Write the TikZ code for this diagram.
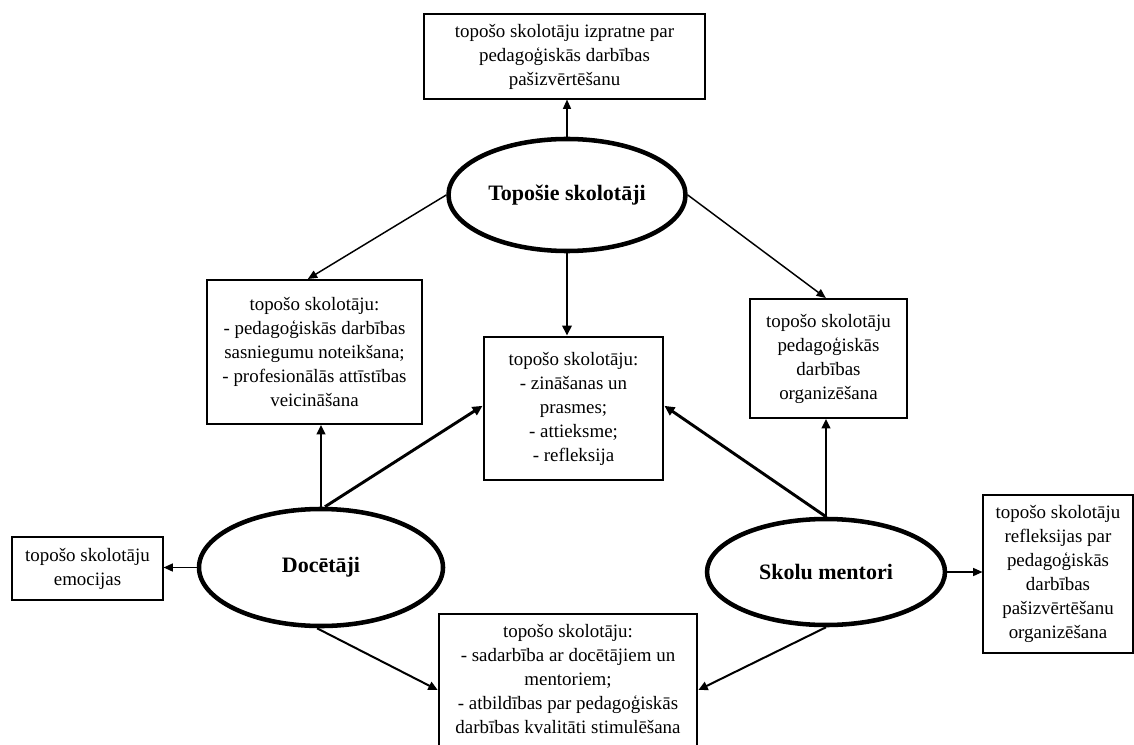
\documentclass[tikz,border=0pt]{standalone}
\usepackage{fontspec}
\setmainfont{Liberation Serif}
\usetikzlibrary{arrows.meta,shapes.geometric}

\tikzset{
  txt/.style={font=\fontsize{14.2}{18}\selectfont, align=center, inner sep=0pt},
  boxthin/.style={txt, draw, rectangle, line width=0.8pt},
  boxmid/.style={txt, draw, rectangle, line width=1.5pt},
  boxthick/.style={txt, draw, rectangle, line width=2.2pt},
  actor/.style={draw, ellipse, line width=3.4pt, inner sep=0pt,
    font=\fontsize{16.5}{19}\selectfont\bfseries},
  arrthin/.style={-{Triangle[length=7pt,width=6pt]}, line width=1.1pt},
  arrmid/.style={-{Triangle[length=7pt,width=6.5pt]}, line width=1.5pt},
  arrthick/.style={-{Triangle[length=7.5pt,width=7pt]}, line width=2.2pt},
}

\begin{document}
\begin{tikzpicture}[x=0.75pt,y=-0.75pt]
  \clip (0,0) rectangle (1134,745);
  \fill[white] (0,0) rectangle (1134,745);

  % actors
  \node[actor, minimum width=177.75pt, minimum height=84pt] (tp) at (567,195) {Topošie skolotāji};
  \node[actor, minimum width=183pt, minimum height=87.75pt] (dc) at (321,567.5) {Docētāji};
  \node[actor, minimum width=178.5pt, minimum height=79.5pt] (mt) at (826,572) {Skolu mentori};

  % outcome boxes
  \node[boxthin, minimum width=210.75pt, minimum height=63.75pt] (tb) at (564.5,56.5)
    {topošo skolotāju izpratne par\\pedagoģiskās darbības\\pašizvērtēšanu};
  \node[boxmid, minimum width=161.25pt, minimum height=108pt] (lb) at (314.5,352)
    {topošo skolotāju:\\- pedagoģiskās darbības\\sasniegumu noteikšana;\\- profesionālās attīstības\\veicināšana};
  \node[boxthick, minimum width=134.25pt, minimum height=107.25pt] (cb) at (573.5,408.5)
    {topošo skolotāju:\\- zināšanas un\\prasmes;\\- attieksme;\\- refleksija};
  \node[boxmid, minimum width=117.75pt, minimum height=89.25pt] (org) at (828.5,358.5)
    {topošo skolotāju\\pedagoģiskās\\darbības\\organizēšana};
  \node[boxthin, minimum width=112.5pt, minimum height=118.5pt] (rf) at (1058,574)
    {topošo skolotāju\\refleksijas par\\pedagoģiskās\\darbības\\pašizvērtēšanu\\organizēšana};
  \node[boxthin, minimum width=113.25pt, minimum height=47.25pt] (em) at (87.5,568.5)
    {topošo skolotāju\\emocijas};
  \node[boxmid, anchor=north] (bb) at (568,613)
    {\parbox[c][125pt][t]{194pt}{\centering\vspace*{8pt}topošo skolotāju:\\- sadarbība ar docētājiem un\\mentoriem;\\- atbildības par pedagoģiskās\\darbības kvalitāti stimulēšana}};

  % connectors from Topošie skolotāji
  \draw[arrthin] (tp.north) -- (tp.north |- tb.south);
  \draw[arrthin] (tp.west) -- ([xshift=-5pt]lb.north);
  \draw[arrthin] (tp.east) -- ([xshift=-2pt]org.north);
  \draw[arrthick] (tp.south) -- (tp.south |- cb.north);

  % connectors from Docētāji
  \draw[arrmid] (dc.north) -- (dc.north |- lb.south);
  \draw[arrthick] ([xshift=3pt]dc.north) -- ([yshift=2pt]cb.west);
  \draw[arrthin] (dc.west) -- (dc.west -| em.east);
  \draw[arrmid] ([xshift=-3pt]dc.south) -- ([yshift=-57.75pt]bb.north west);

  % connectors from Skolu mentori
  \draw[arrmid] (mt.north) -- (mt.north |- org.south);
  \draw[arrthick] (mt.north) -- ([yshift=2pt]cb.east);
  \draw[arrthin] (mt.east) -- (mt.east -| rf.west);
  \draw[arrmid] (mt.south) -- ([yshift=-57.75pt]bb.north east);
\end{tikzpicture}
\end{document}
